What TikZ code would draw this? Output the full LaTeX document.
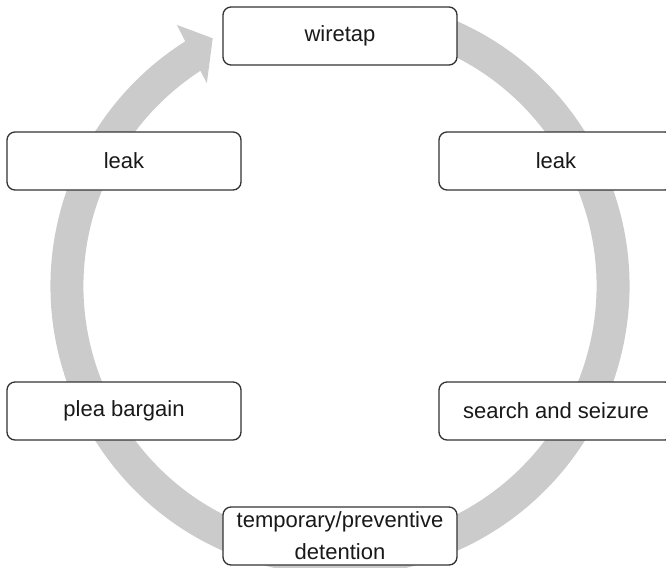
\documentclass[tikz,border=0pt]{standalone}
\usepackage{fontspec}
\setmainfont{Liberation Sans}
\definecolor{ink}{HTML}{333333}
\definecolor{band}{HTML}{CBCBCB}

\begin{document}
\begin{tikzpicture}[x=.75pt,y=-.75pt,box/.style={rounded corners=6pt,draw=ink,fill=white,line width=1pt,minimum width=175.5pt,minimum height=43.5pt,inner sep=2pt,align=center,font=\fontsize{16.5}{24}\selectfont,text=black!90},track/.style={draw=band,line width=24.75pt},head/.style={fill=band}]
 \useasboundingbox (0,0) rectangle (666,567);
 \coordinate (ctr) at (340,286);
 % circular band with its head at the top left
 \draw[track] ([shift={(-75:273)}]ctr) arc[start angle=-75,end angle=238,radius=273];
 \fill[head] ([shift={(-122:307.9)}]ctr)--([shift={(-117.2:278.5)}]ctr)--([shift={(-123.3:242.6)}]ctr)--cycle;
 \node[box] (wire) at (340,36) {wiretap};
 \node[box] (leakl) at (124,161) {leak};
 \node[box] (leakr) at (556,161) {leak};
 \node[box] (plea) at (124,411) {plea bargain};
 \node[box] (search) at (556,411) {search and seizure};
 \node[box] (detain) at (340,536) {temporary/preventive\\detention};
\end{tikzpicture}
\end{document}
